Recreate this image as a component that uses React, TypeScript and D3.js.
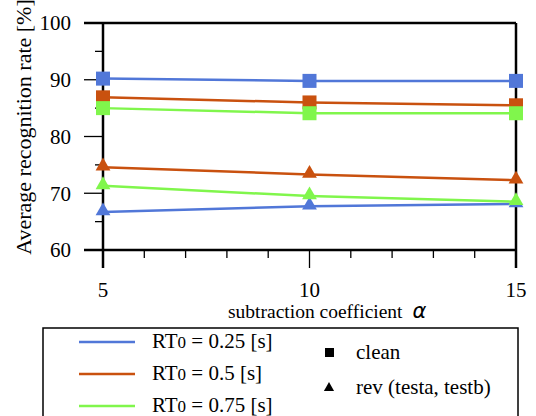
import React from "react";
import * as d3 from "d3";

// x values (subtraction coefficient alpha)
const alphas = [5, 10, 15];

// clean condition (squares)
const clean025 = [90.2, 89.8, 89.8];
const clean05 = [86.9, 86.0, 85.5];
const clean075 = [85.0, 84.1, 84.1];

// reverberant condition (triangles)
const rev025 = [66.7, 67.7, 68.1];
const rev05 = [74.6, 73.3, 72.3];
const rev075 = [71.3, 69.5, 68.5];

const seriesNames = ["0.25", "0.5", "0.75"];
const seriesColors = ["#5177d8", "#c9510f", "#80f64c"];

const yTicks = [60, 70, 80, 90, 100];
const xTicks = [5, 10, 15];

const serif = "'Liberation Serif', 'Times New Roman', Times, serif";

export default function App() {
  const width = 536;
  const height = 416;
  const left = 103;
  const right = 516;
  const top = 23;
  const bottom = 250;

  const x = d3.scaleLinear().domain([5, 15]).range([left, right]);
  const y = d3.scaleLinear().domain([60, 100]).range([bottom, top]);

  const line = d3
    .line<[number, number]>()
    .x((d) => x(d[0]))
    .y((d) => y(d[1]));

  const cleanSets = [clean025, clean05, clean075];
  const revSets = [rev025, rev05, rev075];

  const tri = d3.symbol().type(d3.symbolTriangle).size(95)();
  const legendTri = d3.symbol().type(d3.symbolTriangle).size(45)();

  const minorY = d3.range(65, 100, 10);
  const minorX = d3.range(5, 15.01, 1).filter((v) => v % 5 !== 0);

  const ts = { fontFamily: serif };

  return (
    <svg
      width={width}
      height={height}
      style={{ position: "absolute", left: 0, top: 0 }}
    >
      <rect width={width} height={height} fill="#fff" />

      {/* frame */}
      <line x1={84} x2={right} y1={top} y2={top} stroke="#000" strokeWidth={2.5} />
      <line x1={right} x2={right} y1={top} y2={268} stroke="#000" strokeWidth={2.5} />
      <line x1={left} x2={left} y1={top} y2={268} stroke="#000" strokeWidth={2.5} />
      <line x1={84} x2={right} y1={bottom} y2={bottom} stroke="#000" strokeWidth={2.5} />

      {/* y ticks */}
      {yTicks.map((t) => (
        <g key={"y" + t}>
          <line x1={84} x2={left} y1={y(t)} y2={y(t)} stroke="#000" strokeWidth={1.3} />
          <text x={71} y={y(t)} dy="0.35em" textAnchor="end" fontSize={21} style={ts}>
            {t}
          </text>
        </g>
      ))}
      {minorY.map((t) => (
        <line key={"my" + t} x1={95} x2={left} y1={y(t)} y2={y(t)} stroke="#000" strokeWidth={1.3} />
      ))}

      {/* x ticks */}
      {xTicks.map((t) => (
        <g key={"x" + t}>
          <line x1={x(t)} x2={x(t)} y1={bottom} y2={268} stroke="#000" strokeWidth={1.3} />
          <text x={x(t)} y={297} textAnchor="middle" fontSize={21} style={ts}>
            {t}
          </text>
        </g>
      ))}
      {minorX.map((t) => (
        <line key={"mx" + t} x1={x(t)} x2={x(t)} y1={bottom} y2={258} stroke="#000" strokeWidth={1.3} />
      ))}

      {/* axis titles */}
      <text
        transform={`translate(31, 127) rotate(-90)`}
        textAnchor="middle"
        fontSize={22}
        style={ts}
      >
        Average recognition rate [%]
      </text>
      <text x={228} y={318} fontSize={19.5} style={ts}>
        subtraction coefficient
        <tspan dx={10} fontStyle="italic" fontSize={21} style={{ fontFamily: "'DejaVu Sans', sans-serif" }}>
          α
        </tspan>
      </text>

      {/* series lines */}
      {cleanSets.map((vals, i) => (
        <path
          key={"cl" + i}
          d={line(alphas.map((a, j) => [a, vals[j]] as [number, number])) || ""}
          fill="none"
          stroke={seriesColors[i]}
          strokeWidth={2.5}
        />
      ))}
      {revSets.map((vals, i) => (
        <path
          key={"rl" + i}
          d={line(alphas.map((a, j) => [a, vals[j]] as [number, number])) || ""}
          fill="none"
          stroke={seriesColors[i]}
          strokeWidth={2.5}
        />
      ))}

      {/* markers */}
      {cleanSets.map((vals, i) =>
        alphas.map((a, j) => (
          <rect
            key={`cm${i}-${j}`}
            x={x(a) - 7}
            y={y(vals[j]) - 7}
            width={14}
            height={14}
            fill={seriesColors[i]}
          />
        ))
      )}
      {revSets.map((vals, i) =>
        alphas.map((a, j) => (
          <path
            key={`rm${i}-${j}`}
            d={tri || ""}
            transform={`translate(${x(a)}, ${y(vals[j]) - 1})`}
            fill={seriesColors[i]}
          />
        ))
      )}

      {/* legend */}
      <rect x={43} y={328} width={475} height={100} fill="#fff" stroke="#000" strokeWidth={1.5} />
      {seriesNames.map((n, i) => (
        <g key={"lg" + i}>
          <line
            x1={79}
            x2={135}
            y1={342 + i * 32}
            y2={342 + i * 32}
            stroke={seriesColors[i]}
            strokeWidth={2.5}
          />
          <text x={152} y={341 + i * 32} dy="0.35em" fontSize={21} style={ts}>
            RT
            <tspan fontSize={17}>0</tspan>
            {` = ${n} [s]`}
          </text>
        </g>
      ))}
      <rect x={325} y={348} width={9} height={9} fill="#000" />
      <text x={356} y={352} dy="0.35em" fontSize={21} style={ts}>
        clean
      </text>
      <path d={legendTri || ""} transform="translate(329, 388)" fill="#000" />
      <text x={356} y={387} dy="0.35em" fontSize={21} style={ts}>
        rev (testa, testb)
      </text>
    </svg>
  );
}
